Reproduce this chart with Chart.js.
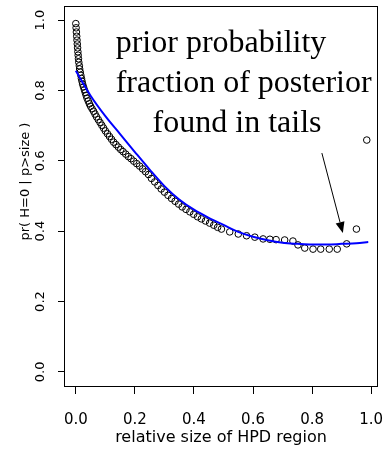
<!DOCTYPE html>
<html>
<head>
<meta charset="utf-8">
<script src="https://cdn.jsdelivr.net/npm/chart.js@4"></script>
<style>
  body { margin: 0; background: #fff; }
  canvas { display: block; }
</style>
</head>
<body>
<canvas id="myChart" width="386" height="452"></canvas>
<script>
// observed points: relative HPD size vs pr(H=0 | p>size)
const sizeX = [0.000,0.001,0.002,0.003,0.004,0.005,0.006,0.007,0.008,0.009,0.010,
  0.012,0.013,0.015,0.017,0.019,0.021,0.023,0.026,0.029,0.032,0.035,0.038,
  0.042,0.046,0.050,0.055,0.060,0.065,0.070,0.076,0.082,0.088,0.094,0.100,
  0.107,0.114,0.121,0.128,0.136,0.144,0.152,0.160,0.169,0.178,0.187,0.196,
  0.206,0.216,0.226,0.236,0.246,0.256,0.267,0.278,0.289,0.300,0.312,0.324,
  0.336,0.348,0.360,0.373,0.386,0.399,0.412,0.425,0.439,0.453,0.467,0.480,
  0.493,0.521,0.550,0.578,0.606,0.634,0.657,0.678,0.707,0.735,0.752,0.775,
  0.803,0.829,0.858,0.885,0.917,0.950,0.985];
const probY = [0.990,0.978,0.966,0.954,0.943,0.932,0.921,0.910,0.900,0.890,0.880,
  0.870,0.861,0.852,0.843,0.834,0.826,0.818,0.810,0.802,0.794,0.786,0.778,
  0.770,0.762,0.755,0.748,0.741,0.733,0.725,0.717,0.709,0.701,0.693,0.685,
  0.677,0.669,0.661,0.653,0.646,0.639,0.632,0.626,0.619,0.612,0.606,0.599,
  0.592,0.585,0.577,0.569,0.561,0.550,0.540,0.530,0.520,0.511,0.502,0.493,
  0.485,0.477,0.469,0.462,0.455,0.448,0.441,0.435,0.429,0.423,0.417,0.411,
  0.406,0.398,0.392,0.387,0.383,0.378,0.377,0.376,0.375,0.372,0.361,0.352,
  0.349,0.349,0.349,0.349,0.364,0.406,0.659];

// smooth fitted curve (blue)
const fitX = [0,0.05,0.10,0.15,0.20,0.25,0.30,0.35,0.40,0.45,0.50,0.55,0.60,0.65,0.70,0.75,0.80,0.85,0.90,0.95,0.99];
const fitY = [0.856,0.785,0.727,0.676,0.625,0.575,0.528,0.490,0.461,0.438,0.418,0.398,0.384,0.374,0.367,0.364,0.362,0.362,0.364,0.366,0.369];

const xTicks = [0, 0.2, 0.4, 0.6, 0.8, 1.0];
const yTicks = [0, 0.2, 0.4, 0.6, 0.8, 1.0];

const notes = ['prior probability', 'fraction of posterior', 'found in tails'];

const boxPlugin = {
    id: 'box',
    afterDraw(chart) {
        const { ctx, chartArea: a } = chart;
        ctx.save();
        ctx.strokeStyle = '#000';
        ctx.lineWidth = 1;
        ctx.strokeRect(Math.round(a.left) + 0.5, Math.round(a.top) + 0.5,
            Math.round(a.right - a.left) - 1, Math.round(a.bottom - a.top));
        ctx.restore();
    }
};

const notePlugin = {
    id: 'notes',
    afterDatasetsDraw(chart) {
        const { ctx, scales: { x, y } } = chart;
        ctx.save();
        ctx.fillStyle = '#000';
        ctx.font = '32px "Liberation Serif", "Times New Roman", serif';
        ctx.textAlign = 'left';
        ctx.textBaseline = 'alphabetic';
        ctx.fillText(notes[0], x.getPixelForValue(0.135), y.getPixelForValue(0.909));
        ctx.fillText(notes[1], x.getPixelForValue(0.135), y.getPixelForValue(0.795));
        ctx.fillText(notes[2], x.getPixelForValue(0.260), y.getPixelForValue(0.682));

        // arrow to the tail points
        const x0 = x.getPixelForValue(0.833), y0 = y.getPixelForValue(0.622);
        const x1 = x.getPixelForValue(0.904), y1 = y.getPixelForValue(0.395);
        const ang = Math.atan2(y1 - y0, x1 - x0);
        const hl = 11, hw = 4.5;
        const bx = x1 - hl * Math.cos(ang), by = y1 - hl * Math.sin(ang);
        ctx.strokeStyle = '#000';
        ctx.lineWidth = 1;
        ctx.beginPath();
        ctx.moveTo(x0, y0);
        ctx.lineTo(bx, by);
        ctx.stroke();
        ctx.beginPath();
        ctx.moveTo(x1, y1);
        ctx.lineTo(bx + hw * Math.sin(ang), by - hw * Math.cos(ang));
        ctx.lineTo(bx - hw * Math.sin(ang), by + hw * Math.cos(ang));
        ctx.closePath();
        ctx.fill();
        ctx.restore();
    }
};

const sans = 'DejaVu Sans';

new Chart(document.getElementById('myChart').getContext('2d'), {
    type: 'scatter',
    data: {
        datasets: [
            {
                type: 'line',
                data: fitX.map((v, i) => ({ x: v, y: fitY[i] })),
                borderColor: '#0000ff',
                borderWidth: 2,
                pointRadius: 0,
                fill: false,
                cubicInterpolationMode: 'monotone'
            },
            {
                data: sizeX.map((v, i) => ({ x: v, y: probY[i] })),
                pointStyle: 'circle',
                pointRadius: 3.3,
                borderColor: '#000',
                backgroundColor: 'rgba(0,0,0,0)',
                borderWidth: 1
            }
        ]
    },
    options: {
        responsive: false,
        animation: false,
        devicePixelRatio: 1,
        layout: { padding: { top: 6, right: 8, left: 0, bottom: 0 } },
        plugins: {
            legend: { display: false },
            tooltip: { enabled: false }
        },
        scales: {
            x: {
                type: 'linear',
                min: -0.04,
                max: 1.023,
                afterFit: s => { s.height = 66; s.paddingLeft = 0; s.paddingRight = 0; },
                afterBuildTicks: s => { s.ticks = xTicks.map(v => ({ value: v })); },
                grid: { drawOnChartArea: false, drawTicks: true, tickLength: 8, color: '#000' },
                border: { display: false },
                ticks: {
                    color: '#000',
                    padding: 17,
                    maxRotation: 0,
                    font: { family: sans, size: 15 },
                    callback: v => v.toFixed(1)
                },
                title: {
                    display: true,
                    text: 'relative size of HPD region',
                    color: '#000',
                    font: { family: sans, size: 16 },
                    padding: { top: 0, bottom: 5 }
                }
            },
            y: {
                type: 'linear',
                min: -0.04,
                max: 1.04,
                afterFit: s => { s.width = 64; s.paddingTop = 0; s.paddingBottom = 0; },
                afterBuildTicks: s => { s.ticks = yTicks.map(v => ({ value: v })); },
                grid: { drawOnChartArea: false, drawTicks: true, tickLength: 6, color: '#000' },
                border: { display: false },
                ticks: {
                    color: '#000',
                    padding: 7,
                    minRotation: 90,
                    maxRotation: 90,
                    crossAlign: 'center',
                    font: { family: sans, size: 13 },
                    callback: v => v.toFixed(1)
                },
                title: {
                    display: true,
                    text: '       pr( H=0 | p>size )',
                    color: '#000',
                    font: { family: sans, size: 13 },
                    padding: { top: 18, bottom: 0 }
                }
            }
        }
    },
    plugins: [boxPlugin, notePlugin]
});
</script>
</body>
</html>
